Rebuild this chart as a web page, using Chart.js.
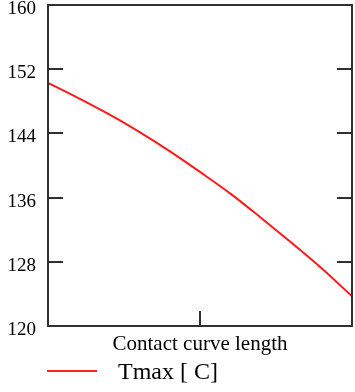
<!DOCTYPE html>
<html>
<head>
<meta charset="utf-8">
<script src="https://cdn.jsdelivr.net/npm/chart.js@4"></script>
<style>
  html, body { margin: 0; padding: 0; background: #fff; }
  #wrap { position: relative; width: 355px; height: 392px; }
  #c { position: absolute; left: 0; top: 0; }
  #legend { position: absolute; left: 47px; top: 357px; height: 28px; display: flex; align-items: center;
            font-family: 'Liberation Serif', serif; font-size: 24px; color: #000; white-space: pre; }
  #legend .swatch { width: 50px; height: 2px; background: #ff2020; margin-right: 21px; margin-top: 0px; }
</style>
</head>
<body>
<div id="wrap">
  <canvas id="c" width="355" height="392"></canvas>
  <div id="legend"><span class="swatch"></span><span id="legendText"></span></div>
</div>
<script>
const xValues = [0, 0.2, 0.4, 0.6, 0.8, 1.0, 1.2, 1.4, 1.6, 1.8, 2.0];
const tmax = [150.3, 148.4, 146.4, 144.2, 141.8, 139.2, 136.5, 133.5, 130.4, 127.2, 123.7];
const yTicks = [120, 128, 136, 144, 152, 160];
const xTickMarks = [1];
const xTitle = 'Contact curve length';
const seriesName = 'Tmax [ C]';

document.getElementById('legendText').textContent = seriesName;

const framePlugin = {
  id: 'frame',
  afterDatasetsDraw(chart) {
    const { ctx, chartArea: a, scales: { x, y } } = chart;
    ctx.save();
    ctx.strokeStyle = '#303030';
    ctx.lineWidth = 2;
    ctx.strokeRect(a.left, a.top, a.right - a.left, a.bottom - a.top);
    ctx.beginPath();
    yTicks.forEach(v => {
      if (v === y.min || v === y.max) return;
      const py = Math.round(y.getPixelForValue(v));
      ctx.moveTo(a.left, py); ctx.lineTo(a.left + 15, py);
      ctx.moveTo(a.right, py); ctx.lineTo(a.right - 15, py);
    });
    xTickMarks.forEach(v => {
      const px = Math.round(x.getPixelForValue(v));
      ctx.moveTo(px, a.bottom); ctx.lineTo(px, a.bottom - 15);
    });
    ctx.stroke();
    ctx.restore();
  }
};

new Chart(document.getElementById('c'), {
  type: 'line',
  data: {
    datasets: [{
      label: seriesName,
      data: xValues.map((xv, i) => ({ x: xv, y: tmax[i] })),
      borderColor: '#ff1a1a',
      borderWidth: 2,
      pointRadius: 0,
      cubicInterpolationMode: 'monotone',
      fill: false
    }]
  },
  options: {
    responsive: false,
    devicePixelRatio: 1,
    animation: false,
    layout: { padding: { left: 0, right: 3, top: 5, bottom: 35 } },
    plugins: { legend: { display: false }, tooltip: { enabled: false } },
    scales: {
      x: {
        type: 'linear', min: 0, max: 2,
        ticks: { display: false },
        grid: { display: false, drawTicks: false },
        border: { display: false },
        title: { display: true, text: xTitle, color: '#000',
                 font: { family: 'Liberation Serif', size: 21 }, padding: { top: 2, bottom: 0 } },
        afterFit(s) { s.height = 31; s.paddingLeft = 0; s.paddingRight = 0; }
      },
      y: {
        min: 120, max: 160,
        ticks: { stepSize: 8, color: '#000', padding: 12, labelOffset: 4,
                 font: { family: 'Liberation Serif', size: 19 } },
        grid: { display: false, drawTicks: false },
        border: { display: false },
        afterFit(s) { s.width = 48; s.paddingTop = 0; s.paddingBottom = 0; }
      }
    }
  },
  plugins: [framePlugin]
});
</script>
</body>
</html>
